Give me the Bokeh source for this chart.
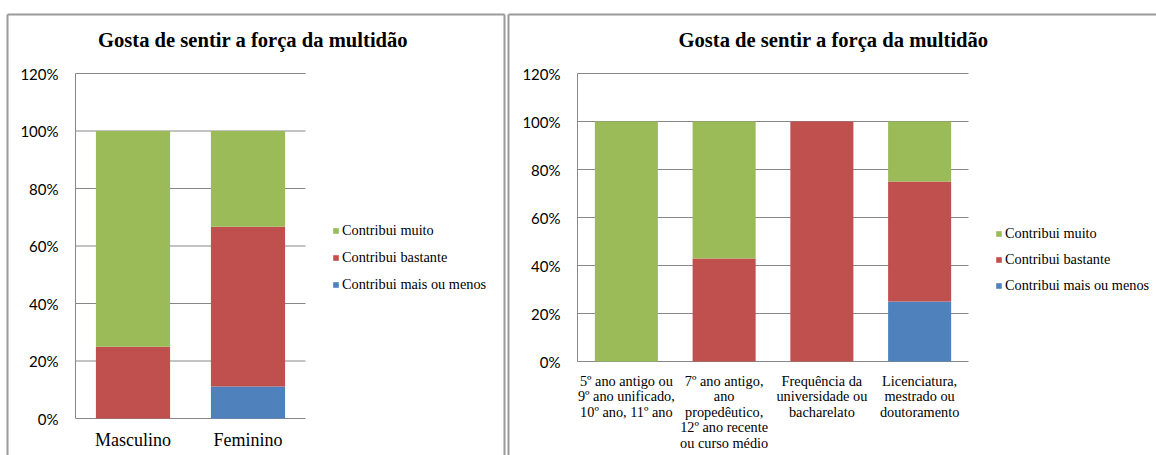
from bokeh.plotting import figure
from bokeh.models import Range1d, Legend, LegendItem, ColumnDataSource
from bokeh.core.properties import value
from bokeh.embed import file_html
from bokeh.resources import INLINE

TITLE = "Gosta de sentir a força da multidão"
SERIES = ["Contribui mais ou menos", "Contribui bastante", "Contribui muito"]
COLORS = ["#4F81BD", "#C0504D", "#9BBB59"]
Y_TICKS = [0, 20, 40, 60, 80, 100, 120]
Y_TICK_LABELS = ["0%", "20%", "40%", "60%", "80%", "100%", "120%"]

# Left chart: by sex
left_categories = ["Masculino", "Feminino"]
left_mais_ou_menos = [0.0, 11.1]
left_bastante = [25.0, 55.6]
left_muito = [75.0, 33.3]

# Right chart: by education
right_categories = [
    "5º ano antigo ou\n9º ano unificado,\n10º ano, 11º ano",
    "7º ano antigo,\nano\npropedêutico,\n12º ano recente\nou curso médio",
    "Frequência da\nuniversidade ou\nbacharelato",
    "Licenciatura,\nmestrado ou\ndoutoramento",
]
right_mais_ou_menos = [0.0, 0.0, 0.0, 25.0]
right_bastante = [0.0, 42.9, 100.0, 50.0]
right_muito = [100.0, 57.1, 0.0, 25.0]

# ---- layout (pixels) ----
W, H = 1156, 455
Y_MAX = 120
LEFT_BOX = (75, 305, 73, 418)     # plot area: left, right, top, bottom
RIGHT_BOX = (577, 968, 73, 361)
SERIF = "Liberation Serif"
GRID = "#878787"
EDGE = "#9a9a9a"

p = figure(width=W, height=H, output_backend="svg", toolbar_location=None,
           x_range=Range1d(0, W), y_range=Range1d(H, 0),
           x_axis_location=None, y_axis_location=None, min_border=0)
p.grid.visible = False
p.outline_line_color = None
p.background_fill_color = "white"
p.border_fill_color = "white"

# chart container frames (decoration, pixel space)
p.segment(x0=[7, 7, 504, 508, 508], y0=[14, 14, 14, 14, 14],
          x1=[504, 7, 504, W, 508], y1=[14, H, H, 14, H],
          line_color=EDGE, line_width=2)


def chart(name, cats, s_low, s_mid, s_high, box, xlab_size, xlab_offset,
          xlab_baseline, xlab_lh, title_x, legend_loc, legend_spacing):
    l, r, t, b = box
    n = len(cats)
    ux = (r - l) / n
    uy = (b - t) / Y_MAX
    xr, yr = name + "_x", name + "_y"
    p.extra_x_ranges[xr] = Range1d(-l / ux, (W - l) / ux)
    p.extra_y_ranges[yr] = Range1d(-(H - b) / uy, Y_MAX + t / uy)
    kw = dict(x_range_name=xr, y_range_name=yr)

    xpos = [i + 0.5 for i in range(n)]
    src = ColumnDataSource({"x": xpos, "cat": cats,
                            SERIES[0]: s_low, SERIES[1]: s_mid, SERIES[2]: s_high})

    # gridlines and axis lines
    p.segment(x0=[0] * len(Y_TICKS), x1=[n] * len(Y_TICKS), y0=Y_TICKS, y1=Y_TICKS,
              line_color=GRID, line_width=1, **kw)
    p.segment(x0=[0], x1=[0], y0=[0], y1=[Y_MAX], line_color=GRID, line_width=1, **kw)

    rs = p.vbar_stack(SERIES, x="x", width=0.645, color=COLORS, source=src,
                      line_color=None, **kw)

    # y tick labels
    p.text(x=[0] * len(Y_TICKS), y=Y_TICKS, text=Y_TICK_LABELS, x_offset=-17,
           text_align="right", text_baseline="middle", text_font=value("Lato"),
           text_font_size="15px", text_color="#000000", **kw)
    # category labels
    p.text(x="x", y=0, text="cat", source=src, y_offset=xlab_offset,
           text_align="center", text_baseline=xlab_baseline, text_font=value(SERIF),
           text_font_size=xlab_size, text_line_height=xlab_lh, text_color="#000000", **kw)
    # title
    p.text(x=[title_x], y=[39], text=[TITLE], text_align="center",
           text_baseline="alphabetic", text_font=value(SERIF), text_font_size="20.6px",
           text_font_style="bold", text_color="#000000")

    items = [LegendItem(label=SERIES[i], renderers=[rs[i]]) for i in (2, 1, 0)]
    leg = Legend(items=items, location=legend_loc, glyph_width=7, glyph_height=7,
                 label_standoff=3, label_text_font=SERIF, label_text_font_size="14.3px",
                 label_text_color="#000000", label_height=20, spacing=legend_spacing,
                 padding=0, margin=0, border_line_color=None, background_fill_alpha=0)
    p.add_layout(leg)


chart("left", left_categories, left_mais_ou_menos, left_bastante, left_muito,
      LEFT_BOX, "18px", 21, "alphabetic", 1.2, 252.5, (332, 161), 7)
chart("right", right_categories, right_mais_ou_menos, right_bastante, right_muito,
      RIGHT_BOX, "14.3px", 11, "top", 0.97, 833, (995, 160), 6)

open("out.html", "w").write(file_html(p, INLINE))
